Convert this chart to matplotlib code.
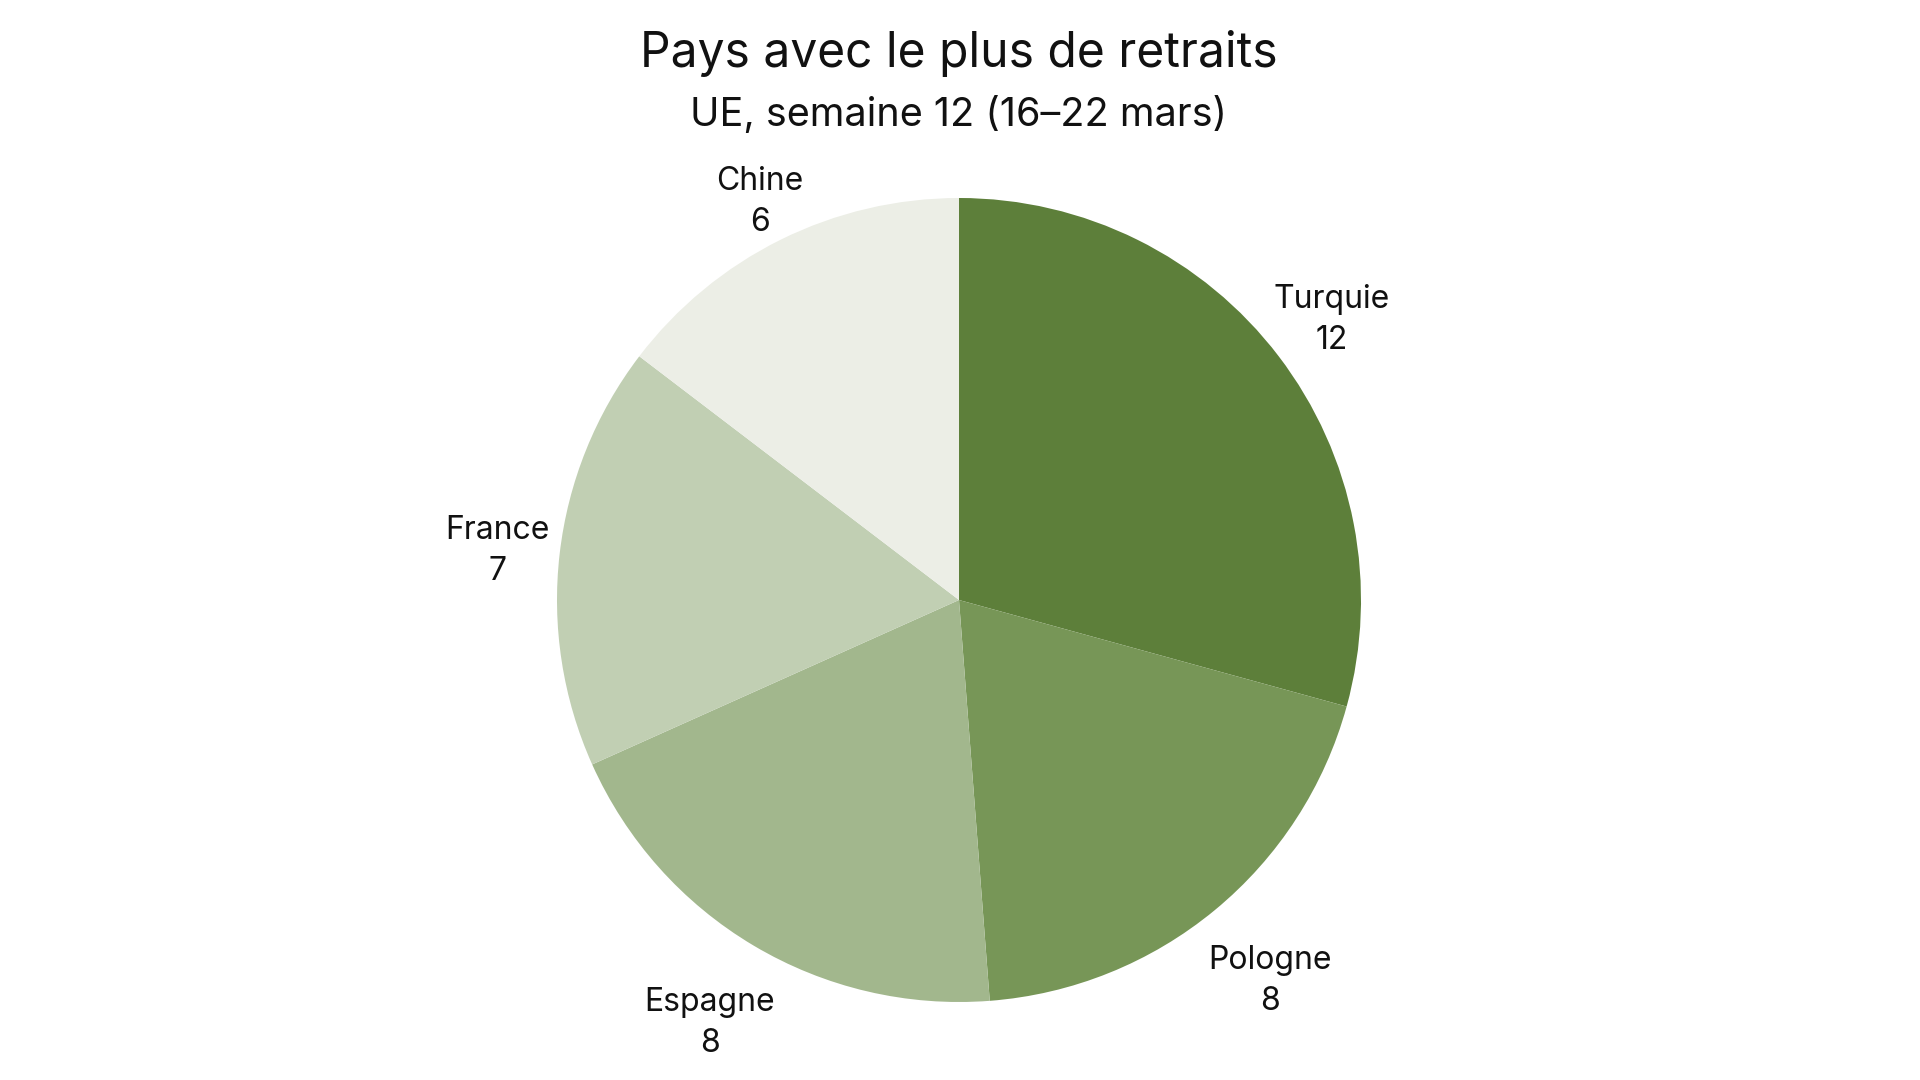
import math
import matplotlib
matplotlib.use('Agg')
import matplotlib.pyplot as plt

# -------------------------[Data]-------------------------
countries = ['Turquie', 'Pologne', 'Espagne', 'France', 'Chine']
withdrawals = [12, 8, 8, 7, 6]
colors = ['#5d7f3a', '#779657', '#a2b78d', '#c1cfb3', '#eceee6']

title = 'Pays avec le plus de retraits'
subtitle = 'UE, semaine 12 (16\u201322 mars)'
# ---------------------------------------------------------

plt.rcParams['font.family'] = ['Inter', 'DejaVu Sans']

W, H = 1920, 1080
fig = plt.figure(figsize=(W / 100, H / 100), dpi=100)

# pie centre at (959, 600 from top), radius ~402 px
r_px = 402
cx, cy = 959, 480
ax = fig.add_axes([(cx - 2 * r_px) / W, 0, 4 * r_px / W, 1])

labels = ['{}\n{}'.format(c, v) for c, v in zip(countries, withdrawals)]
wedges, texts = ax.pie(withdrawals, labels=labels, colors=colors, startangle=90,
                       counterclock=False, labeldistance=1.15,
                       wedgeprops=dict(linewidth=0),
                       textprops=dict(fontsize=23, color='#111111', linespacing=1.42))
for t in texts:
    t.set_ha('center')
    t.set_va('center')
    t.set_multialignment('center')

ax.set_aspect('auto')
ax.set_xlim(-2, 2)
ax.set_ylim(-cy / r_px, (H - cy) / r_px)
ax.axis('off')

# push every label out so its box just clears the pie edge
fig.canvas.draw()
renderer = fig.canvas.get_renderer()
drop = 4       # px, labels sit slightly low
for t, w in zip(texts, wedges):
    ang = math.radians((w.theta1 + w.theta2) / 2)
    gap = 410 - 15 * math.sin(ang)   # lower labels sit a bit further out
    bb = t.get_window_extent(renderer)
    d = gap + abs(math.cos(ang)) * bb.width / 2 + abs(math.sin(ang)) * bb.height / 2
    t.set_position((d * math.cos(ang) / r_px, (d * math.sin(ang) - drop) / r_px))

fig.text(cx / W, 1 - 67 / H, title, ha='center', va='baseline', fontsize=34.5, color='#111111')
fig.text(cx / W, 1 - 126 / H, subtitle, ha='center', va='baseline', fontsize=28.5, color='#111111')

fig.savefig('out.png', dpi=100, facecolor='white')
